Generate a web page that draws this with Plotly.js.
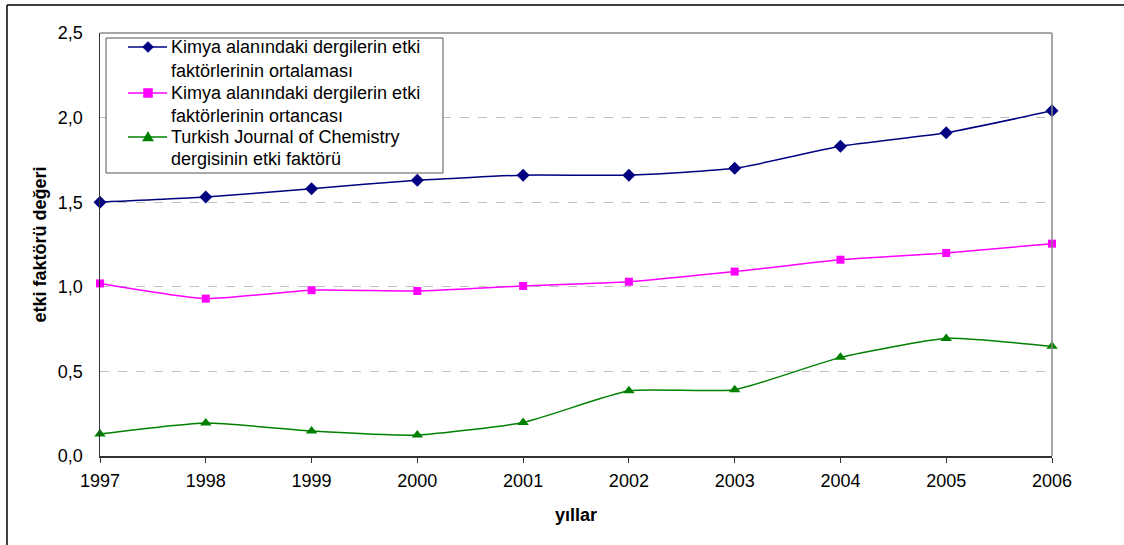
<!DOCTYPE html>
<html><head><meta charset="utf-8">
<script src="https://cdn.plot.ly/plotly-3.0.1.min.js"></script>
<style>html,body{margin:0;padding:0;background:#fff;}#chart{width:1124px;height:545px;}</style>
</head><body><div id="chart"></div>
<script>
const years = [1997,1998,1999,2000,2001,2002,2003,2004,2005,2006];
const ortalama = [1.50,1.53,1.58,1.63,1.66,1.66,1.70,1.83,1.91,2.04];
const ortanca = [1.02,0.93,0.98,0.975,1.005,1.03,1.09,1.16,1.20,1.255];
const tjc = [0.13,0.195,0.148,0.124,0.198,0.385,0.392,0.583,0.695,0.648];
const legendLines = [
  ["Kimya alanındaki dergilerin etki", "faktörlerinin ortalaması"],
  ["Kimya alanındaki dergilerin etki", "faktörlerinin ortancası"],
  ["Turkish Journal of Chemistry", "dergisinin etki faktörü"]
];
const yTicks = [0,0.5,1,1.5,2,2.5];

const colors = ['#000080','#FF00FF','#008000'];
const symbols = ['diamond','square','triangle-up'];
const sizes = [10,8,10];
const series = [ortalama, ortanca, tjc];

const traces = series.map((s,i)=>({
  x:years,y:s,name:legendLines[i].join(' '),mode:'lines+markers',
  line:{color:colors[i],width:1.5,shape:'spline',smoothing:0.5},
  marker:{symbol:symbols[i],size:sizes[i],color:colors[i]},cliponaxis:false
}));

const L=100, R=72, T=33, B=89;
const pw = 1124-L-R, ph = 545-T-B;
function px(x){return (x-L)/pw;}
function py(y){return (545-B-y)/ph;}

// legend drawn manually to match compact spacing
const legTop=38, legBottom=173, legLeft=106, legRight=443;
const lineYs = [[47,71],[93,116],[137,159]];
const shapes = [
  {type:'line',xref:'paper',yref:'paper',x0:0,x1:1,y0:1,y1:1,line:{color:'#888',width:1.5}},
  {type:'line',xref:'paper',yref:'paper',x0:1,x1:1,y0:0,y1:1,line:{color:'#888',width:1.5}},
  {type:'line',xref:'paper',yref:'paper',x0:px(7),x1:px(1130),y0:py(5),y1:py(5),line:{color:'#000',width:1.5}},
  {type:'line',xref:'paper',yref:'paper',x0:px(7),x1:px(7),y0:py(5),y1:py(550),line:{color:'#000',width:1.5}},
  {type:'rect',xref:'paper',yref:'paper',x0:px(legLeft),x1:px(legRight),y0:py(legTop),y1:py(legBottom),
   line:{color:'#555',width:1},fillcolor:'#fff',layer:'above'}
];
const markerPaths = [
  'M0,-5.5L5.5,0L0,5.5L-5.5,0Z',
  'M-4.5,-4.5L4.5,-4.5L4.5,4.5L-4.5,4.5Z',
  'M0,5.5L5.5,-4L-5.5,-4Z'
];
const annotations = [];
lineYs.forEach((ys,i)=>{
  shapes.push({type:'line',xref:'paper',yref:'paper',x0:px(128),x1:px(167),y0:py(ys[0]),y1:py(ys[0]),
    line:{color:colors[i],width:1.5},layer:'above'});
  shapes.push({type:'path',xref:'paper',yref:'paper',xsizemode:'pixel',ysizemode:'pixel',
    xanchor:px(148),yanchor:py(ys[0]),path:markerPaths[i],fillcolor:colors[i],line:{color:colors[i],width:0.5},layer:'above'});
  legendLines[i].forEach((t,j)=>{
    annotations.push({xref:'paper',yref:'paper',x:px(170),y:py(ys[j]),xanchor:'left',yanchor:'middle',
      text:t,showarrow:false,font:{size:18,color:'#000'},borderpad:0});
  });
});

const layout = {
  width:1124,height:545,
  margin:{l:L,r:R,t:T,b:B,pad:0},
  paper_bgcolor:'#fff',plot_bgcolor:'#fff',
  separators:', ',
  font:{family:'"Liberation Sans", Arial, sans-serif',size:18,color:'#000'},
  showlegend:false,
  xaxis:{range:[1997,2006],tickvals:years,ticktext:years.map(String),showgrid:false,zeroline:false,
    showline:true,linecolor:'#333',linewidth:1.5,ticks:'outside',ticklen:5,tickcolor:'#333',
    tickfont:{size:18},ticklabelstandoff:3,mirror:false,
    title:{text:'<b>yıllar</b>',font:{size:18},standoff:18}},
  yaxis:{range:[0,2.5],tickvals:yTicks,tickformat:'.1f',showgrid:true,gridcolor:'#c0c0c0',griddash:'dash',gridwidth:1,
    zeroline:false,showline:true,linecolor:'#333',linewidth:1.5,ticks:'',
    tickfont:{size:18},ticklabelstandoff:12,
    title:{text:'<b>etki faktörü değeri</b>',font:{size:18},standoff:6}},
  shapes:shapes,
  annotations:annotations
};
Plotly.newPlot('chart',traces,layout,{displayModeBar:false,staticPlot:true});
</script></body></html>
